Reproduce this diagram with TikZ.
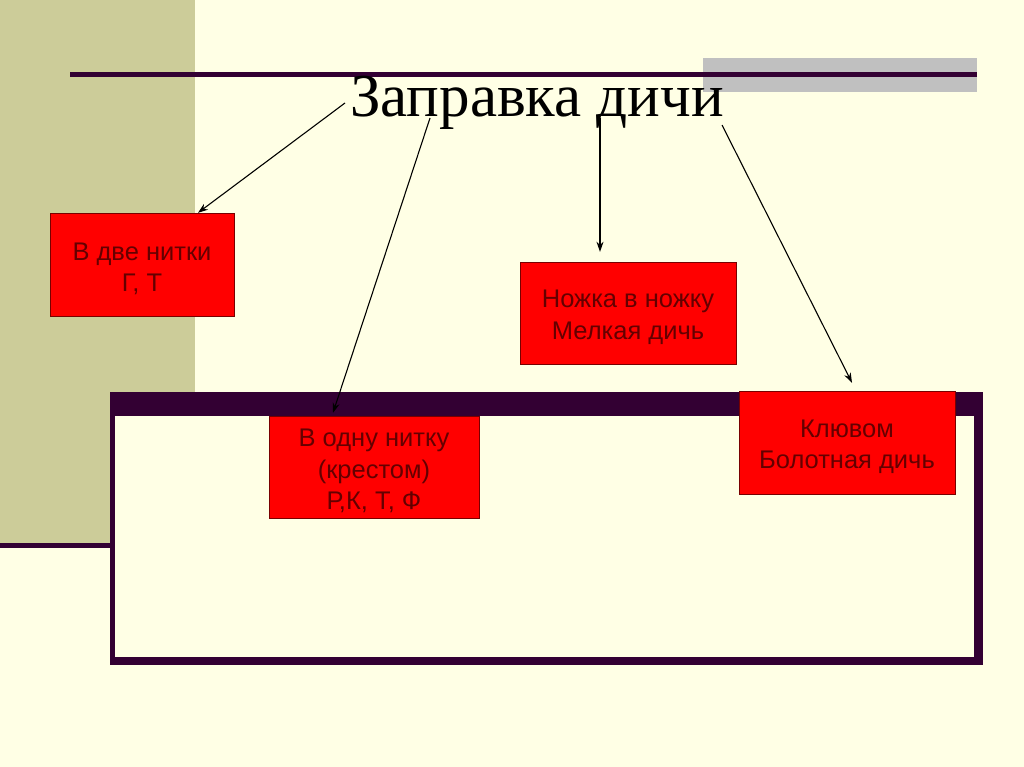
\documentclass[tikz,border=0pt]{standalone}
\usepackage{fontspec}
\setmainfont{Liberation Serif}
\newfontfamily\boxfont{Liberation Sans}
\usetikzlibrary{calc,arrows.meta}
\definecolor{cream}{RGB}{255,255,229}
\definecolor{bandolive}{RGB}{204,204,153}
\definecolor{darkplum}{RGB}{51,0,51}
\definecolor{barsilver}{RGB}{192,192,192}
\definecolor{boxred}{RGB}{255,0,0}
\definecolor{boxedge}{RGB}{120,0,0}
\definecolor{boxtext}{RGB}{100,0,0}
\newcommand{\topgap}{\rule{0pt}{26pt}}
\begin{document}
\begin{tikzpicture}[x=1pt, y=-1pt,
    box/.style={draw=boxedge, fill=boxred, text=boxtext, align=center, inner sep=0pt,
        font=\boxfont\fontsize{25.5}{31.5}\selectfont},
    link/.style={-{Stealth[length=10pt,width=7pt]}, line width=1.1pt}]
    % background and frame
    \fill[cream] (0,0) rectangle (1024,767);
    \useasboundingbox (0,0) rectangle (1024,767);
    \fill[bandolive] (0,0) rectangle (195,543);
    \fill[darkplum] (0,543) rectangle (112,548);
    \fill[barsilver] (703,58) rectangle (977,92);
    \fill[darkplum] (70,72.5) rectangle (977,77.5);
    \fill[darkplum] (110,392) rectangle (983,665);
    \fill[cream] (115,416) rectangle (974,657);

    % title and boxes
    \node[font=\fontsize{61}{63}\selectfont, anchor=base, inner sep=0pt] (title) at (537,117) {Заправка дичи};
    \node[box, minimum width=184pt, minimum height=103pt] (dve) at (142,264.5) {\topgap В две нитки\\Г, Т};
    \node[box, minimum width=216pt, minimum height=102pt] (nozhka) at (628,313) {\topgap Ножка в ножку\\Мелкая дичь};
    \node[box, minimum width=210pt, minimum height=102pt] (odna) at (374,467) {\topgap В одну нитку\\(крестом)\\Р,К, Т, Ф};
    \node[box, minimum width=216pt, minimum height=103pt] (klyuv) at (847,442.5) {\topgap Клювом\\Болотная дичь};

    % arrows from the title
    \draw[link] ($(title.base)+(-192,-14)$) -- ($(dve.north)+(56,0)$);
    \draw[link] ($(title.base)+(-107,1)$) -- ($(odna.north)+(-41,-3)$);
    \draw[link] ($(title.base)+(63,1)$) -- ($(nozhka.north)+(-28,-10)$);
    \draw[link] ($(title.base)+(185,8)$) -- ($(klyuv.north)+(5,-8)$);
\end{tikzpicture}
\end{document}
